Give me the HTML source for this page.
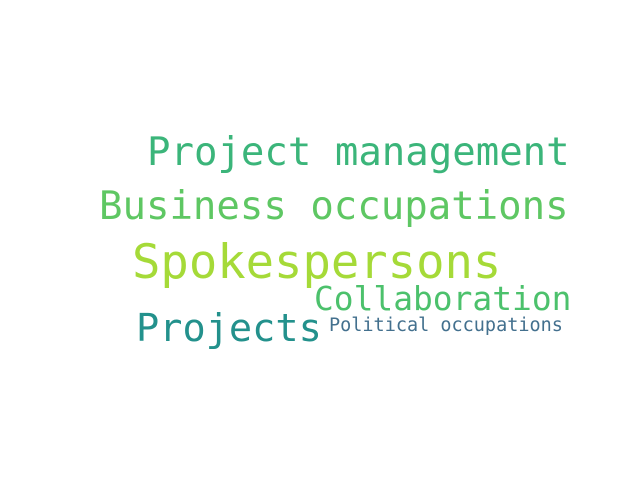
<!DOCTYPE html>
<html><head><meta charset="utf-8"><style>
html,body{margin:0;padding:0;background:#fff;}
svg text{font-family:"DejaVu Sans Mono","Liberation Mono",monospace;}
</style></head><body>
<svg width="640" height="480" xmlns="http://www.w3.org/2000/svg">
<rect width="640" height="480" fill="#fff"/>
<g id="words"></g>
</svg>
<script>
const words=["Project management","Business occupations","Spokespersons","Collaboration","Projects","Political occupations"];
const sizes=[39,39,47.2,32.9,38.6,18.5];
const xs=[147,99,132,314,136,329];
const ys=[165,219,278,310,341,331];
const colors=["#3bb57a","#5ec763","#a5da38","#4cc16c","#23918c","#43708e"];
const g=document.getElementById('words');
words.forEach((w,i)=>{
  const t=document.createElementNS('http://www.w3.org/2000/svg','text');
  
  
  t.setAttribute('x',xs[i]);t.setAttribute('y',ys[i]);
  t.setAttribute('font-size',sizes[i]);t.setAttribute('fill',colors[i]);
  t.textContent=w;g.appendChild(t);
});
</script>
</body></html>
